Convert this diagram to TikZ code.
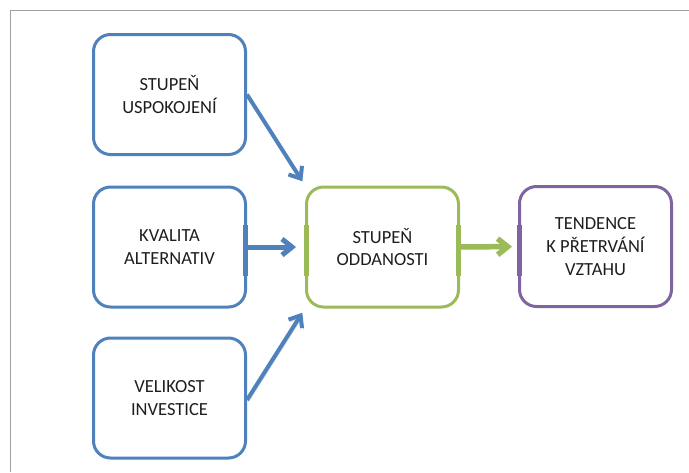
\documentclass[tikz,border=0pt]{standalone}
\usepackage{fontspec}
\setmainfont{Carlito}
\usetikzlibrary{arrows.meta}
\definecolor{bblue}{HTML}{4F81BD}
\definecolor{bgreen}{HTML}{9BBB59}
\definecolor{bpurple}{HTML}{8064A2}
\definecolor{framegray}{HTML}{A0A0A0}
\definecolor{txt}{HTML}{1E1E1E}
\begin{document}
\begin{tikzpicture}[x=1pt,y=-1pt,
  box/.style={draw, line width=3pt, rounded corners=17pt, minimum width=152pt,
    minimum height=120pt, align=center, font=\fontsize{18.5}{22.6}\selectfont,
    text=txt, inner sep=0pt},
  conn/.style={line width=#1, -{Straight Barb[length=10pt,width=16pt]},
    preaction={draw=black!22, transform canvas={shift={(1.5pt,-2pt)}}}},
  joint/.style={line width=4.5pt},
]
\useasboundingbox (0,0) rectangle (689,472);
\draw[framegray, line width=1pt] (10,472) -- (10,10.5) -- (689,10.5);

\node[box, draw=bblue] (b1) at (169.5,94.5) {STUPEŇ\\USPOKOJENÍ};
\node[box, draw=bblue] (b2) at (169.5,247) {KVALITA\\ALTERNATIV};
\node[box, draw=bblue] (b3) at (169.5,398) {VELIKOST\\INVESTICE};
\node[box, draw=bgreen] (g) at (382.5,247) {STUPEŇ\\ODDANOSTI};
\node[box, draw=bpurple] (p) at (595.5,246.5) {TENDENCE\\K PŘETRVÁNÍ\\VZTAHU};

\draw[joint, bblue] ([xshift=-1.5pt,yshift=22pt]b2.east) -- ([xshift=-1.5pt,yshift=-29pt]b2.east);
\draw[joint, bgreen] ([xshift=1.5pt,yshift=22pt]g.west) -- ([xshift=1.5pt,yshift=-29pt]g.west);
\draw[joint, bgreen] ([xshift=-1.5pt,yshift=22pt]g.east) -- ([xshift=-1.5pt,yshift=-29pt]g.east);
\draw[joint, bpurple] ([xshift=1.5pt,yshift=22pt]p.west) -- ([xshift=1.5pt,yshift=-29pt]p.west);

\draw[conn=4pt, bblue, shorten >=5pt] (b1.east) -- (g.north west);
\draw[conn=5pt, bblue, shorten >=9pt] (b2.east) -- (g.west);
\draw[conn=4pt, bblue, shorten >=5pt] ([yshift=-2pt]b3.east) -- (g.south west);
\draw[conn=5.5pt, bgreen, shorten >=6pt] (g.east) -- (p.west);
\end{tikzpicture}
\end{document}
